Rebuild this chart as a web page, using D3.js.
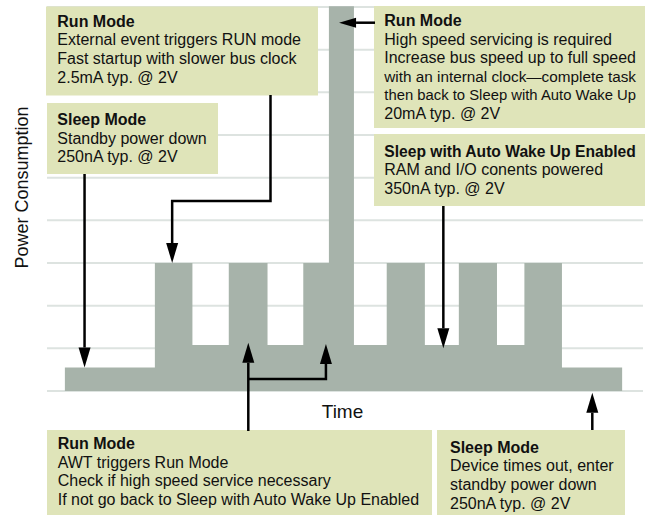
<!DOCTYPE html>
<html lang="en">
    <head>
        <meta charset="utf-8">
        <title>power modes</title>
        <script type="text/javascript" src="https://cdn.jsdelivr.net/npm/d3@7"></script>
        <style type="text/css">
            body { margin: 0; background: white; }
            text { font-family: "Liberation Sans", Arial, Helvetica, sans-serif; }
        </style>
    </head>
    <body>
        <script type="text/javascript">

            //power profile, one entry per step (time in arbitrary units, level in grid units)
            var modes = ["Sleep", "Run", "Auto Wake", "Run", "Auto Wake", "Run", "High Speed",
                         "Auto Wake", "Run", "Auto Wake", "Run", "Auto Wake", "Run", "Sleep"];
            var tStart = [3.0, 18.1, 24.4, 30.5, 37.0, 43.0, 47.3, 51.5, 57.0, 63.4, 69.1, 75.5, 80.1, 86.4];
            var tEnd = 96.5;
            var levels = [0.55, 3, 1.08, 3, 1.08, 3, 9.02, 1.08, 3, 1.08, 3, 1.08, 3, 0.55];
            var gridLevels = [0, 1, 2, 3, 4, 5, 6, 7, 8, 9];

            var xLabel = "Time";
            var yLabel = "Power Consumption";

            //annotation texts
            var notes = [
              { title: "Run Mode", lines: ["External event triggers RUN mode", "Fast startup with slower bus clock", "2.5mA typ. @ 2V"] },
              { title: "Sleep Mode", lines: ["Standby power down", "250nA typ. @ 2V"] },
              { title: "Run Mode", lines: ["High speed servicing is required", "Increase bus speed up to full speed", "with an internal clock\u2014complete task", "then back to Sleep with Auto Wake Up", "20mA typ. @ 2V"] },
              { title: "Sleep with Auto Wake Up Enabled", lines: ["RAM and I/O conents powered", "350nA typ. @ 2V"] },
              { title: "Run Mode", lines: ["AWT triggers Run Mode", "Check if high speed service necessary", "If not go back to Sleep with Auto Wake Up Enabled"] },
              { title: "Sleep Mode", lines: ["Device times out, enter", "standby power down", "250nA typ. @ 2V"] }
            ];

            //box layout (pixels)
            var boxes = [
              { x: 46, y: 6.5, w: 272, h: 89, tx: 57.3, ty: 26.7 },
              { x: 47, y: 103, w: 171, h: 71, tx: 57.3, ty: 125 },
              { x: 374, y: 6, w: 271, h: 122, tx: 384.3, ty: 26 },
              { x: 374, y: 134, w: 271, h: 72, tx: 384.3, ty: 156.7 },
              { x: 47, y: 430, w: 385, h: 90, tx: 57.7, ty: 449 },
              { x: 437, y: 430, w: 188, h: 90, tx: 450, ty: 452.7 }
            ];
            var lineStep = 18.6;
            var noteSize = 16;

            var w = 652;
            var h = 515;

            var xScale = d3.scaleLinear()
                .domain([0, 100])
                .range([47, 643]);

            var yScale = d3.scaleLinear()
                .domain([0, 9])
                .range([391, 7]);

            var svg = d3.select("body")
                  .append("svg")
                  .attr("width", w)
                  .attr("height", h);

            //grid lines
            svg.selectAll("line.grid")
              .data(gridLevels)
              .enter()
              .append("line")
              .attr("class", "grid")
              .attr("x1", xScale(0))
              .attr("x2", xScale(100))
              .attr("y1", function(d) { return yScale(d); })
              .attr("y2", function(d) { return yScale(d); })
              .attr("stroke", "#dde3e0")
              .attr("stroke-width", 2);

            //step profile
            var pts = tStart.map(function(t, i) { return [t, levels[i]]; });
            pts.push([tEnd, levels[levels.length - 1]]);

            var area = d3.area()
              .x(function(d) { return xScale(d[0]); })
              .y0(yScale(0))
              .y1(function(d) { return yScale(d[1]); })
              .curve(d3.curveStepAfter);

            svg.append("path")
              .datum(pts)
              .attr("d", area)
              .attr("fill", "#a7b3aa");

            //boxes
            svg.selectAll("rect.note")
              .data(boxes)
              .enter()
              .append("rect")
              .attr("class", "note")
              .attr("x", function(d) { return d.x; })
              .attr("y", function(d) { return d.y; })
              .attr("width", function(d) { return d.w; })
              .attr("height", function(d) { return d.h; })
              .attr("fill", "#dfe4b9");

            notes.forEach(function(n, i) {
              var b = boxes[i];
              var maxW = b.x + b.w - b.tx - 9;
              var all = [n.title].concat(n.lines);
              all.forEach(function(l, j) {
                var t = svg.append("text")
                  .attr("x", b.tx)
                  .attr("y", b.ty + j * lineStep)
                  .attr("font-size", noteSize + "px")
                  .attr("font-weight", j == 0 ? "bold" : "normal")
                  .attr("fill", "#111")
                  .text(l);
                //shrink lines that would run past the box
                var len = t.node().getComputedTextLength();
                if (len > maxW) {
                  t.attr("font-size", (noteSize * maxW / len).toFixed(2) + "px");
                }
              });
            });

            //arrows: polyline, head at the last point
            function arrow(points, len, half) {
              var n = points.length;
              var p = points[n - 1], q = points[n - 2];
              var dx = p[0] - q[0], dy = p[1] - q[1];
              var d = Math.sqrt(dx * dx + dy * dy);
              var ux = dx / d, uy = dy / d;
              var base = [p[0] - ux * len, p[1] - uy * len];
              var line = points.slice(0, n - 1).concat([base]);
              svg.append("path")
                .attr("d", d3.line()(line))
                .attr("fill", "none")
                .attr("stroke", "black")
                .attr("stroke-width", 2.5);
              svg.append("path")
                .attr("d", d3.line()([p,
                  [base[0] - uy * half, base[1] + ux * half],
                  [base[0] + uy * half, base[1] - ux * half]]) + "Z")
                .attr("fill", "black");
            }

            arrow([[270.5, 95], [270.5, 201], [xScale(21.0), 201], [xScale(21.0), yScale(3)]], 20, 6);
            arrow([[xScale(6.3), 174], [xScale(6.3), yScale(0.55)]], 20, 6);
            arrow([[375, 22.7], [xScale(49.0), 22.7]], 17, 5);
            arrow([[xScale(66.5), 206], [xScale(66.5), yScale(1.0)]], 20, 6);
            arrow([[248.3, 431], [248.3, yScale(1.13)]], 20, 6);
            arrow([[248.3, 379], [xScale(46.8), 379], [xScale(46.8), yScale(1.1)]], 20, 6);
            arrow([[592.3, 430], [592.3, yScale(-0.04)]], 20, 6);

            //axis labels
            svg.append("text")
              .attr("x", 342.5)
              .attr("y", 418)
              .attr("text-anchor", "middle")
              .attr("font-size", "19px")
              .attr("fill", "#111")
              .text(xLabel);

            svg.append("text")
              .attr("transform", "translate(28,187.5) rotate(-90)")
              .attr("text-anchor", "middle")
              .attr("font-size", "18px")
              .attr("fill", "#111")
              .text(yLabel);

        </script>
    </body>
</html>
